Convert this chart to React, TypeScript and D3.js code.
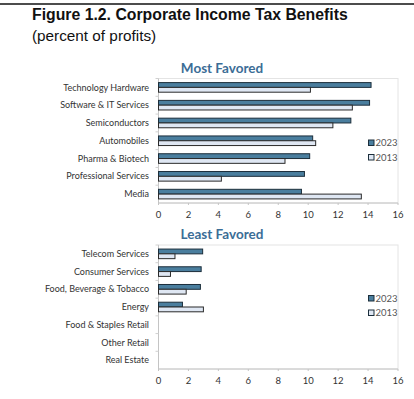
import React from 'react';
import * as d3 from 'd3';

const mostCats = [
  'Technology Hardware',
  'Software & IT Services',
  'Semiconductors',
  'Automobiles',
  'Pharma & Biotech',
  'Professional Services',
  'Media',
];
const most2023 = [14.2, 14.1, 12.85, 10.3, 10.1, 9.75, 9.55];
const most2013 = [10.15, 12.95, 11.65, 10.5, 8.45, 4.2, 13.55];

const leastCats = [
  'Telecom Services',
  'Consumer Services',
  'Food, Beverage & Tobacco',
  'Energy',
  'Food & Staples Retail',
  'Other Retail',
  'Real Estate',
];
const least2023 = [2.95, 2.85, 2.8, 1.6, 0, 0, 0];
const least2013 = [1.1, 0.8, 1.85, 3.0, 0, 0, 0];

const xTicks = [0, 2, 4, 6, 8, 10, 12, 14, 16];
const seriesNames = ['2023', '2013'];

const C2023 = '#4a7e9e';
const C2013 = '#dfe7f3';
const FONT = "Lato, sans-serif";

type PanelProps = {
  title: string;
  cats: string[];
  a: number[];
  b: number[];
  top: number;
  bottom: number;
  legendY: number;
};

const Panel = ({ title, cats, a, b, top, bottom, legendY }: PanelProps) => {
  const left = 158.5;
  const right = 398;
  const x = d3.scaleLinear().domain([0, 16]).range([left, right]);
  const y = d3.scaleBand().domain(cats).range([top, bottom]);
  const barH = 4.8;

  return (
    <g>
      <text
        x={222}
        y={top - 6}
        textAnchor="middle"
        fontFamily={FONT}
        fontWeight="bold"
        fontSize={13.5}
        fill="#3b6d96"
      >
        {title}
      </text>
      {/* frame */}
      <rect x={left} y={top} width={right - left} height={bottom - top} fill="none" stroke="#e4e4e4" />
      <line x1={left} x2={left} y1={top} y2={bottom} stroke="#c4c4c4" />
      <line x1={left} x2={right} y1={bottom} y2={bottom} stroke="#c4c4c4" />
      {cats.map((c) => (
        <line key={'t' + c} x1={left - 3} x2={left} y1={y(c)!} y2={y(c)!} stroke="#d0d0d0" />
      ))}
      {xTicks.map((t) => (
        <g key={t}>
          <line x1={x(t)} x2={x(t)} y1={bottom} y2={bottom + 2} stroke="#c4c4c4" />
          <text
            x={x(t)}
            y={bottom + 15}
            textAnchor="middle"
            fontFamily={FONT}
            fontSize={9.5}
            fill="#333"
          >
            {t}
          </text>
        </g>
      ))}
      {cats.map((c, i) => {
        const cy = y(c)! + y.bandwidth() / 2;
        return (
          <g key={c}>
            <text
              x={149}
              y={cy}
              dy="0.35em"
              textAnchor="end"
              fontFamily={FONT}
              fontSize={9}
              fill="#333"
            >
              {c}
            </text>
            {a[i] > 0 && (
              <rect
                x={x(0)}
                y={cy - barH}
                width={x(a[i]) - x(0)}
                height={barH}
                fill={C2023}
                stroke="#1c2e3b"
                strokeWidth={1}
              />
            )}
            {b[i] > 0 && (
              <rect
                x={x(0)}
                y={cy}
                width={x(b[i]) - x(0)}
                height={barH}
                fill={C2013}
                stroke="#2a2a2a"
                strokeWidth={1}
              />
            )}
          </g>
        );
      })}
      {seriesNames.map((s, i) => (
        <g key={s}>
          <rect
            x={368.5}
            y={legendY + i * 14.5 - 3}
            width={5.5}
            height={5.5}
            fill={i === 0 ? C2023 : C2013}
            stroke="#1c2e3b"
          />
          <text
            x={375.5}
            y={legendY + i * 14.5}
            dy="0.35em"
            fontFamily={FONT}
            fontSize={9.5}
            fill="#555"
          >
            {s}
          </text>
        </g>
      ))}
    </g>
  );
};

const App = () => {
  return (
    <svg
      width={414}
      height={399}
      style={{ position: 'absolute', left: 0, top: 0, background: '#fff' }}
    >
      <line x1={0} x2={414} y1={4} y2={4} stroke="#111" strokeWidth={1.5} />
      <text x={32} y={20} fontFamily="'Liberation Sans', Arial, sans-serif" fontWeight="bold" fontSize={15.8} fill="#111">
        Figure 1.2. Corporate Income Tax Benefits
      </text>
      <text x={32} y={41} fontFamily="'Liberation Sans', Arial, sans-serif" fontSize={15.3} fill="#111">
        (percent of profits)
      </text>
      <Panel
        title="Most Favored"
        cats={mostCats}
        a={most2023}
        b={most2013}
        top={78.5}
        bottom={203}
        legendY={143}
      />
      <Panel
        title="Least Favored"
        cats={leastCats}
        a={least2023}
        b={least2013}
        top={245}
        bottom={369}
        legendY={298.5}
      />
    </svg>
  );
};

export default App;
